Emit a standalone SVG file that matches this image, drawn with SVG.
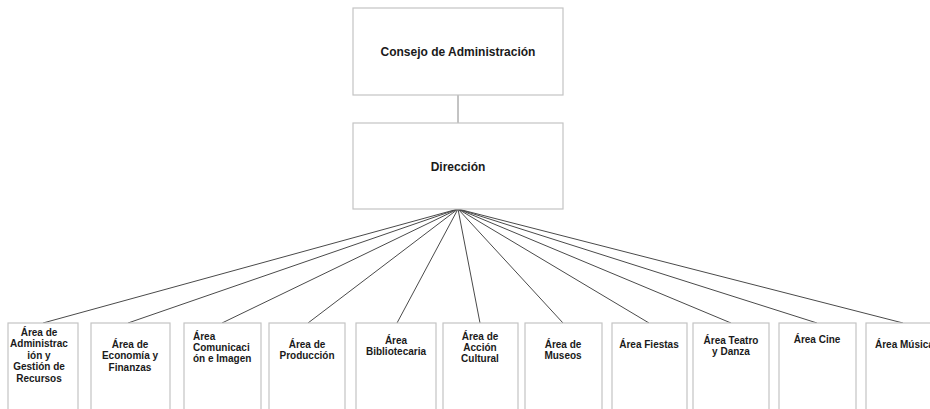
<svg xmlns="http://www.w3.org/2000/svg" width="930" height="409" viewBox="0 0 930 409">
<style>
.box{fill:#fff;stroke:#c4c4c4;stroke-width:1.2}
.t{font-family:"Liberation Sans",Arial,sans-serif;font-weight:bold;fill:#1a1a1a}
.big{font-size:12px;text-anchor:middle}
.sm{font-size:10px;text-anchor:middle}
.l{text-anchor:start}
.c line{stroke:#4a4a4a;stroke-width:1}
</style>
<rect width="930" height="409" fill="#fff"/>
<g class="c" id="connectors">
<line x1="458" y1="95" x2="458" y2="123" style="stroke:#888"/>
<line x1="458" y1="209" x2="43" y2="323"/>
<line x1="458" y1="209" x2="128" y2="323"/>
<line x1="458" y1="209" x2="222" y2="323"/>
<line x1="458" y1="209" x2="308" y2="323"/>
<line x1="458" y1="209" x2="397" y2="323"/>
<line x1="458" y1="209" x2="480" y2="323"/>
<line x1="458" y1="209" x2="563" y2="323"/>
<line x1="458" y1="209" x2="649" y2="323"/>
<line x1="458" y1="209" x2="731" y2="323"/>
<line x1="458" y1="209" x2="817" y2="323"/>
<line x1="458" y1="209" x2="903" y2="323"/>
</g>
<g id="consejo"><rect class="box" x="353" y="8" width="210" height="87"/><text class="t big" x="458" y="56">Consejo de Administración</text></g>
<g id="direccion"><rect class="box" x="353" y="123" width="210" height="86"/><text class="t big" x="458" y="171">Dirección</text></g>
<g id="a1"><rect class="box" x="8" y="323" width="70" height="90"/><text class="t sm" x="39" y="335.5">Área de<tspan x="39" dy="11.5">Administrac</tspan><tspan x="39" dy="11.5">ión y</tspan><tspan x="39" dy="11.5">Gestión de</tspan><tspan x="39" dy="11.5">Recursos</tspan></text></g>
<g id="a2"><rect class="box" x="91" y="323" width="79" height="90"/><text class="t sm" x="130" y="347.5">Área de<tspan x="130" dy="11.5">Economía y</tspan><tspan x="130" dy="11.5">Finanzas</tspan></text></g>
<g id="a3"><rect class="box" x="184" y="323" width="77" height="90"/><text class="t sm l" x="193" y="340">Área<tspan x="193" dy="11">Comunicaci</tspan><tspan x="193" dy="11">ón e Imagen</tspan></text></g>
<g id="a4"><rect class="box" x="269" y="323" width="76" height="90"/><text class="t sm" x="307" y="347.5">Área de<tspan x="307" dy="11">Producción</tspan></text></g>
<g id="a5"><rect class="box" x="356" y="323" width="80" height="90"/><text class="t sm" x="396" y="344">Área<tspan x="396" dy="11">Bibliotecaria</tspan></text></g>
<g id="a6"><rect class="box" x="443" y="323" width="75" height="90"/><text class="t sm" x="480" y="340">Área de<tspan x="480" dy="11">Acción</tspan><tspan x="480" dy="11">Cultural</tspan></text></g>
<g id="a7"><rect class="box" x="525" y="323" width="77" height="90"/><text class="t sm" x="563" y="347.5">Área de<tspan x="563" dy="11">Museos</tspan></text></g>
<g id="a8"><rect class="box" x="612" y="323" width="75" height="90"/><text class="t sm" x="649" y="347.5">Área Fiestas</text></g>
<g id="a9"><rect class="box" x="693" y="323" width="76" height="90"/><text class="t sm" x="731" y="344">Área Teatro<tspan x="731" dy="11">y Danza</tspan></text></g>
<g id="a10"><rect class="box" x="779" y="323" width="77" height="90"/><text class="t sm" x="817" y="342.5">Área Cine</text></g>
<g id="a11"><rect class="box" x="866" y="323" width="80" height="90"/><text class="t sm l" x="875" y="347.5">Área Música</text></g>
</svg>
